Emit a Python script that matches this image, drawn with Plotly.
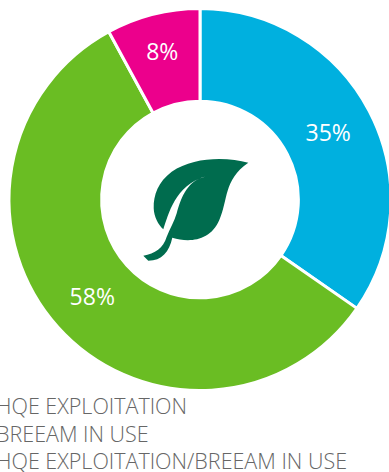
import plotly.graph_objects as go

# Certification shares, in percent
categories = ["HQE EXPLOITATION", "BREEAM IN USE", "HQE EXPLOITATION/BREEAM IN USE"]
shares = [35, 58, 8]
slice_colors = ["#00B0DF", "#6ABD23", "#EC008C"]
legend_rows = [405, 433, 460]

WIDTH, HEIGHT = 392, 472
CX, CY, R = 200, 199.5, 191


def leaf_path():
    # Leaf outline drawn on a 3x grid anchored at (130, 140) in page pixels
    segments = [
        ("M", [(355, 68)]),
        ("C", [(290, 50), (190, 50), (125, 95)]),
        ("C", [(85, 125), (70, 165), (71, 205)]),
        ("C", [(72, 230), (85, 255), (100, 268)]),
        ("C", [(115, 225), (135, 135), (225, 110)]),
        ("C", [(175, 122), (155, 165), (140, 220)]),
        ("C", [(133, 245), (120, 265), (110, 290)]),
        ("C", [(100, 325), (75, 340), (40, 347)]),
        ("L", [(55, 362)]),
        ("C", [(95, 362), (118, 335), (127, 293)]),
        ("C", [(175, 308), (240, 305), (268, 240)]),
        ("C", [(295, 180), (280, 120), (355, 68)]),
    ]
    out = []
    for cmd, pts in segments:
        coords = " ".join(f"{130 + x / 3:.1f},{140 + y / 3:.1f}" for x, y in pts)
        out.append(f"{cmd} {coords}")
    return " ".join(out) + " Z"


fig = go.Figure(
    go.Pie(
        labels=categories,
        values=shares,
        sort=False,
        direction="clockwise",
        rotation=0,
        hole=0.515,
        marker=dict(colors=slice_colors, line=dict(color="white", width=3)),
        texttemplate="%{value}%",
        textposition="inside",
        insidetextorientation="horizontal",
        textfont=dict(family="Open Sans", size=23, color="white"),
        domain=dict(
            x=[(CX - R) / WIDTH, (CX + R) / WIDTH],
            y=[1 - (CY + R) / HEIGHT, 1 - (CY - R) / HEIGHT],
        ),
        showlegend=False,
        hoverinfo="label+percent",
    )
)

fig.add_shape(
    type="path",
    path=leaf_path(),
    xref="x",
    yref="y",
    fillcolor="#006C4E",
    line=dict(width=0),
)

# Legend rows run off the left edge of the page
for name, row in zip(categories, legend_rows):
    fig.add_annotation(
        text=name,
        x=0,
        xshift=-6,
        y=row,
        xref="x",
        yref="y",
        xanchor="left",
        yanchor="middle",
        showarrow=False,
        font=dict(family="Open Sans", size=21.5, color="#666666", weight=300),
    )

fig.update_layout(
    width=WIDTH,
    height=HEIGHT,
    margin=dict(l=0, r=0, t=0, b=0),
    paper_bgcolor="white",
    plot_bgcolor="white",
    xaxis=dict(range=[0, WIDTH], visible=False, fixedrange=True),
    yaxis=dict(range=[HEIGHT, 0], visible=False, fixedrange=True),
)

fig.write_html(
    "out.html",
    config={"displayModeBar": False},
    post_script="document.documentElement.style.overflow = 'hidden';",
)
